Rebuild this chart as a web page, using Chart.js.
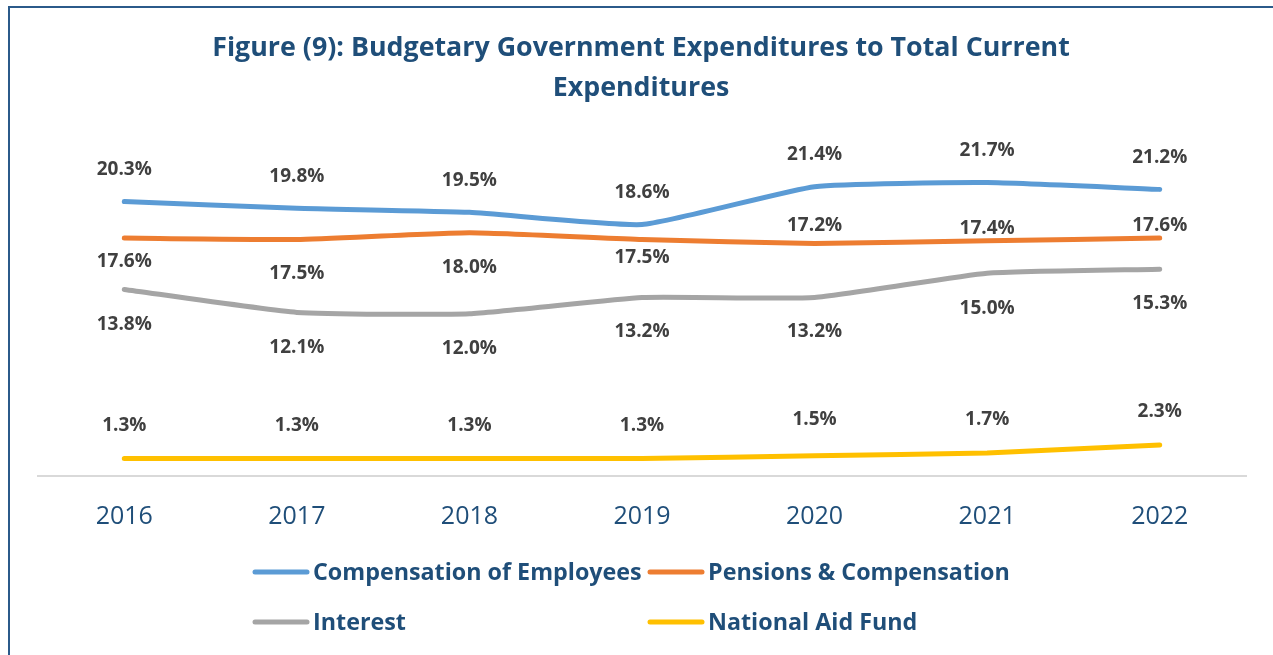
<!DOCTYPE html>
<html>
<head>
<meta charset="utf-8">
<script src="https://cdn.jsdelivr.net/npm/chart.js@4/dist/chart.umd.min.js"></script>
<style>
	html, body { margin: 0; padding: 0; background: #fff; overflow: hidden; }
	#wrap { position: relative; width: 1273px; height: 655px; }
	#frame {
		position: absolute; left: 8px; top: 6px; width: 1400px; height: 800px;
		border: 2px solid #2B5A8A; box-sizing: border-box;
	}
	canvas { position: absolute; left: 0; top: 0; }
</style>
</head>
<body>
<div id="wrap">
	<div id="frame"></div>
	<canvas id="chart" width="1273" height="655"></canvas>
</div>
<script>
	// Chart data
	var years = ['2016', '2017', '2018', '2019', '2020', '2021', '2022'];
	var compensation = [20.3, 19.8, 19.5, 18.6, 21.4, 21.7, 21.2];
	var pensions = [17.6, 17.5, 18.0, 17.5, 17.2, 17.4, 17.6];
	var interest = [13.8, 12.1, 12.0, 13.2, 13.2, 15.0, 15.3];
	var aidFund = [1.3, 1.3, 1.3, 1.3, 1.5, 1.7, 2.3];
	var seriesNames = [
		'Compensation of Employees',
		'Pensions & Compensation',
		'Interest',
		'National Aid Fund',
	];
	var titleLines = [
		'Figure (9): Budgetary Government Expenditures to Total Current',
		'Expenditures',
	];

	var COLORS = ['#5B9BD5', '#ED7D31', '#A5A5A5', '#FFC000'];
	var NAVY = '#1F4E79';
	var FONT = '"Open Sans", Lato, sans-serif';

	// Vertical offset (px) of each data label from its point
	var labelShift = [
		[-32, -32, -32, -32, -32, -32, -32],
		[24, 34, 35, 18, -18, -12, -12],
		[35, 35, 35, 34, 34, 35, 34],
		[-33, -33, -33, -33, -36, -33, -33],
	];

	// Draws title, data labels and the two-row legend
	var decorPlugin = {
		id: 'decor',
		afterDatasetsDraw: function (chart) {
			var ctx = chart.ctx;
			ctx.save();
			ctx.textAlign = 'center';
			ctx.textBaseline = 'middle';
			ctx.fillStyle = '#404040';
			ctx.font = 'bold 19px ' + FONT;
			chart.data.datasets.forEach(function (ds, d) {
				var meta = chart.getDatasetMeta(d);
				meta.data.forEach(function (pt, i) {
					ctx.fillText(ds.data[i].toFixed(1) + '%', pt.x, pt.y + labelShift[d][i]);
				});
			});
			ctx.restore();
		},
		afterDraw: function (chart) {
			var ctx = chart.ctx;
			ctx.save();
			// title
			ctx.fillStyle = NAVY;
			ctx.font = 'bold 26.8px ' + FONT;
			ctx.textAlign = 'center';
			ctx.textBaseline = 'middle';
			ctx.fillText(titleLines[0], 641, 48);
			ctx.fillText(titleLines[1], 641, 88);
			// legend
			var spots = [[253, 573], [648, 573], [253, 623], [648, 623]];
			ctx.font = 'bold 23.3px ' + FONT;
			ctx.textAlign = 'left';
			ctx.lineCap = 'round';
			ctx.lineWidth = 5;
			for (var k = 0; k < seriesNames.length; k++) {
				ctx.strokeStyle = COLORS[k];
				ctx.beginPath();
				ctx.moveTo(spots[k][0] + 2, spots[k][1] - 1);
				ctx.lineTo(spots[k][0] + 54, spots[k][1] - 1);
				ctx.stroke();
				ctx.fillStyle = NAVY;
				ctx.fillText(seriesNames[k], spots[k][0] + 60, spots[k][1]);
			}
			ctx.restore();
		},
	};

	var allSeries = [compensation, pensions, interest, aidFund];

	new Chart(document.getElementById('chart'), {
		type: 'line',
		data: {
			labels: years,
			datasets: allSeries.map(function (vals, k) {
				return {
					label: seriesNames[k],
					data: vals,
					borderColor: COLORS[k],
					backgroundColor: COLORS[k],
					borderWidth: 5,
					borderCapStyle: 'round',
					borderJoinStyle: 'round',
					pointRadius: 0,
					tension: 0.15,
				};
			}),
		},
		options: {
			responsive: false,
			animation: false,
			layout: {
				padding: { left: 38, right: 27, top: 138, bottom: 99 },
			},
			plugins: {
				legend: { display: false },
				title: { display: false },
				tooltip: { enabled: false },
			},
			scales: {
				x: {
					offset: true,
					grid: { display: false, drawTicks: false },
					border: { display: true, color: '#D9D9D9', width: 2 },
					ticks: {
						color: NAVY,
						font: { family: FONT, size: 25 },
						padding: 26,
					},
					afterFit: function (scale) {
						scale.height = 80;
					},
				},
				y: {
					display: false,
					min: 0,
					max: 25,
				},
			},
		},
		plugins: [decorPlugin],
	});
</script>
</body>
</html>
